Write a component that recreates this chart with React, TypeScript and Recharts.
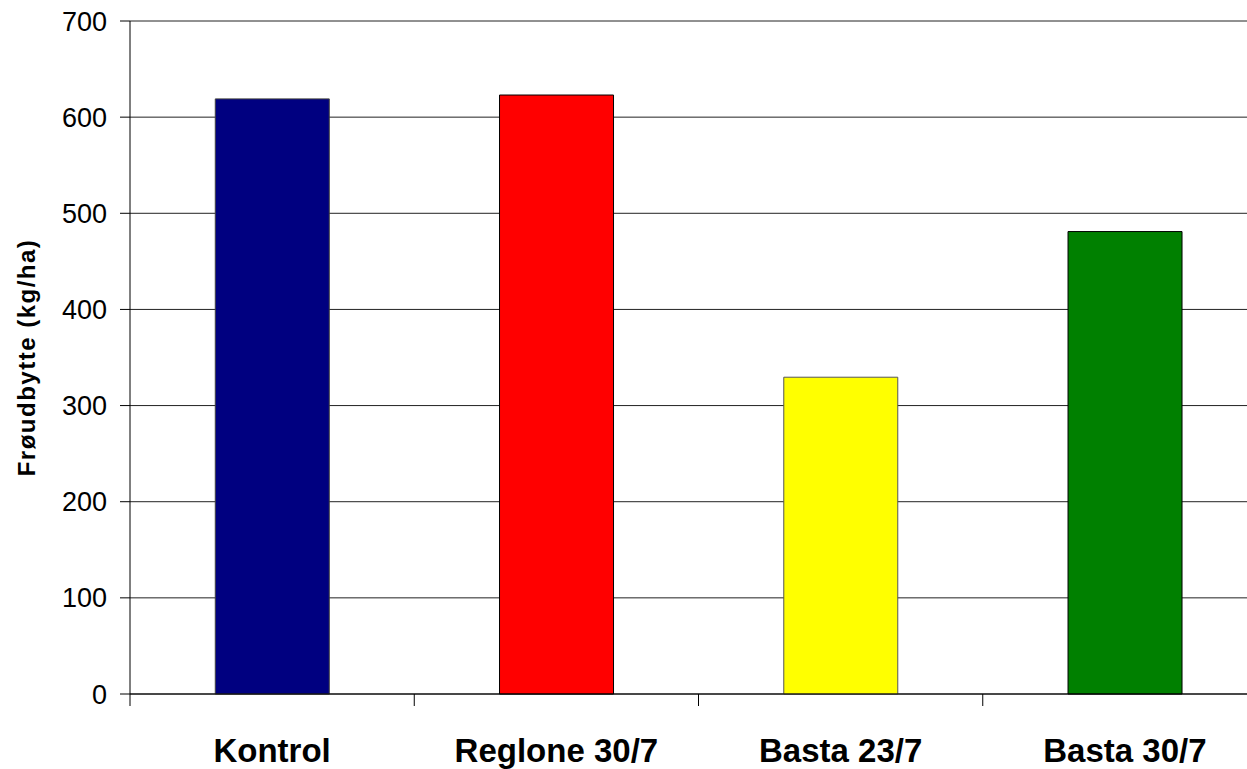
import React from "react";
import { BarChart, Bar, XAxis, YAxis, CartesianGrid, Cell } from "recharts";

const categories = ["Kontrol", "Reglone 30/7", "Basta 23/7", "Basta 30/7"];
const yields = [619, 623, 329.5, 481];
const barColors = ["#000080", "#FF0000", "#FFFF00", "#008000"];
const barStrokes = ["#404040", "#000000", "#555555", "#000000"];
const yTicks = [0, 100, 200, 300, 400, 500, 600, 700];
const yLabel = "Frøudbytte (kg/ha)";

const data = categories.map((name, i) => ({ name, value: yields[i] }));

const FONT = "'Liberation Sans', Arial, sans-serif";
const X_TICK_SIZE = 12;

const XTick = (props: any) => {
  const { x, y, payload } = props;
  const half = payload && typeof payload.offset === "number" ? payload.offset : 142;
  const axisY = y - X_TICK_SIZE;
  const bx = x - half;
  return (
    <g>
      <line x1={bx} y1={axisY} x2={bx} y2={axisY + X_TICK_SIZE} stroke="#000" strokeWidth={1} />
      <text
        x={x}
        y={axisY + 68}
        textAnchor="middle"
        fontFamily={FONT}
        fontWeight="bold"
        fontSize={33}
        fill="#000"
      >
        {payload.value}
      </text>
    </g>
  );
};

const YLabel = (props: any) => {
  const vb = props.viewBox || {};
  const cy = (vb.y ?? 21) + (vb.height ?? 673) / 2;
  const cx = 26;
  return (
    <text
      x={cx}
      y={cy}
      transform={`rotate(-90, ${cx}, ${cy})`}
      textAnchor="middle"
      dominantBaseline="central"
      fontFamily={FONT}
      fontWeight="bold"
      fontSize={24}
      letterSpacing={1.5}
      fill="#000"
    >
      {yLabel}
    </text>
  );
};

export default function App() {
  return (
    <div
      style={{
        position: "fixed",
        left: 0,
        top: 0,
        width: 1247,
        height: 769,
        overflow: "hidden",
        background: "#fff",
      }}
    >
      <BarChart
        width={1267}
        height={769}
        data={data}
        margin={{ top: 21, right: 0, bottom: 0, left: 0 }}
        barCategoryGap="30%"
        style={{ fontFamily: FONT }}
      >
        <CartesianGrid vertical={false} stroke="#222" strokeWidth={1} />
        <XAxis
          dataKey="name"
          height={75}
          axisLine={{ stroke: "#000", strokeWidth: 1 }}
          tickLine={false}
          tickSize={X_TICK_SIZE}
          tickMargin={0}
          interval={0}
          tick={<XTick />}
        />
        <YAxis
          width={130}
          domain={[0, 700]}
          ticks={yTicks}
          interval={0}
          axisLine={{ stroke: "#000", strokeWidth: 1 }}
          tickLine={{ stroke: "#000", strokeWidth: 1 }}
          tickSize={10}
          tickMargin={13}
          tick={{ fontSize: 27, fill: "#000", fontFamily: FONT }}
          label={{ content: <YLabel /> }}
        />
        <Bar dataKey="value" isAnimationActive={false}>
          {data.map((d, i) => (
            <Cell key={d.name} fill={barColors[i]} stroke={barStrokes[i]} strokeWidth={1} />
          ))}
        </Bar>
      </BarChart>
    </div>
  );
}
